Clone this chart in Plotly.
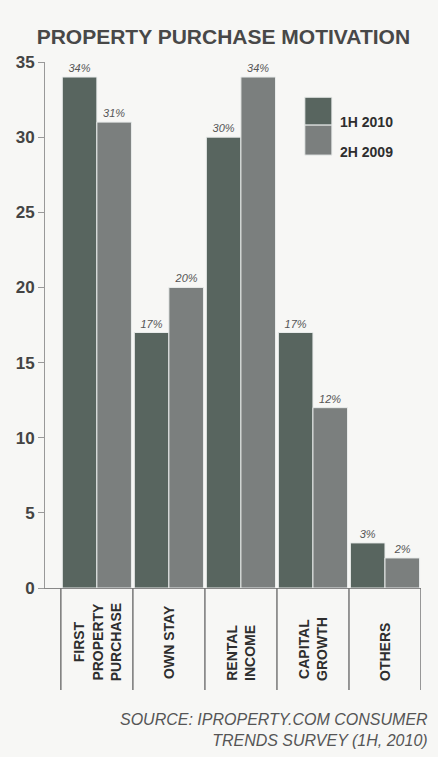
import plotly.graph_objects as go

categories = ["FIRST<br>PROPERTY<br>PURCHASE", "OWN STAY", "RENTAL<br>INCOME", "CAPITAL<br>GROWTH", "OTHERS"]
values_1h2010 = [34, 17, 30, 17, 3]
values_2h2009 = [31, 20, 34, 12, 2]
series_names = ["1H 2010", "2H 2009"]
y_ticks = [0, 5, 10, 15, 20, 25, 30, 35]

c1 = "#58655f"
c2 = "#7b7f7e"
bg = "#f7f7f5"
txt = "#2e2e2e"

x_idx = list(range(len(categories)))

fig = go.Figure()
for name, vals, col in [(series_names[0], values_1h2010, c1), (series_names[1], values_2h2009, c2)]:
    fig.add_trace(go.Bar(
        x=x_idx, y=vals, name=name,
        marker=dict(color=col, line=dict(color="#e8ebea", width=1)),
        text=[f"{v}%" for v in vals], textposition="outside",
        textfont=dict(family="Liberation Sans", size=11, color="#555", style="italic"),
        cliponaxis=False, showlegend=False,
    ))

fig.update_layout(
    width=438, height=757,
    paper_bgcolor=bg, plot_bgcolor=bg,
    margin=dict(l=45, r=17, t=62, b=169),
    barmode="group", bargap=0.04, bargroupgap=0.0,
    title=dict(text="PROPERTY PURCHASE MOTIVATION", x=0.51, xanchor="center",
               y=1 - 37 / 757, yanchor="middle",
               font=dict(family="Liberation Sans", size=21, color="#484848", weight="bold")),
)

fig.update_xaxes(range=[-0.72, 4.5], showticklabels=False, showgrid=False, zeroline=False,
                 showline=True, linecolor="#888", linewidth=1, ticks="")
fig.update_yaxes(range=[0, 35], tickvals=y_ticks, showgrid=False, zeroline=False,
                 showline=True, linecolor="#999", linewidth=1, ticks="outside", ticklen=6,
                 tickcolor="#999",
                 tickfont=dict(family="Liberation Sans", size=17, color="#444", weight="bold"))

# category separators below the axis
shapes = []
for b in [i - 0.5 for i in range(len(categories) + 1)]:
    shapes.append(dict(type="line", xref="x", yref="paper", x0=b, x1=b, y0=0, y1=-102 / 526,
                       line=dict(color="#777", width=1.5)))

# legend swatch
shapes.append(dict(type="rect", xref="paper", yref="paper", x0=0.691, x1=0.763, y0=0.880, y1=0.933,
                   fillcolor=c1, line=dict(color="#e8ebea", width=1)))
shapes.append(dict(type="rect", xref="paper", yref="paper", x0=0.691, x1=0.763, y0=0.823, y1=0.880,
                   fillcolor=c2, line=dict(color="#e8ebea", width=1)))
fig.update_layout(shapes=shapes)

lab_font = dict(family="Liberation Sans", size=14, color=txt, weight=700)
annotations = []
for i, cat in enumerate(categories):
    if i == 1:
        annotations.append(dict(x=i, y=-15 / 526, xref="x", yref="paper", text=cat,
                                textangle=-90, showarrow=False, yanchor="top", xanchor="center",
                                font=lab_font))
    else:
        annotations.append(dict(x=i, y=-95 / 526, xref="x", yref="paper", text=cat,
                                textangle=-90, showarrow=False, yanchor="bottom", xanchor="center",
                                font=lab_font))

leg_font = dict(family="Liberation Sans", size=14, color=txt, weight="bold")
annotations.append(dict(x=0.779, y=0.886, xref="paper", yref="paper", text=series_names[0],
                        showarrow=False, xanchor="left", yanchor="middle", font=leg_font))
annotations.append(dict(x=0.779, y=0.829, xref="paper", yref="paper", text=series_names[1],
                        showarrow=False, xanchor="left", yanchor="middle", font=leg_font))

annotations.append(dict(x=1.024, y=-0.270, xref="paper", yref="paper",
                        text="SOURCE: IPROPERTY.COM CONSUMER<br>TRENDS SURVEY (1H, 2010)",
                        showarrow=False, xanchor="right", yanchor="middle", align="right",
                        font=dict(family="Liberation Sans", size=16, color="#555", style="italic")))
fig.update_layout(annotations=annotations)

fig.write_html("out.html")
